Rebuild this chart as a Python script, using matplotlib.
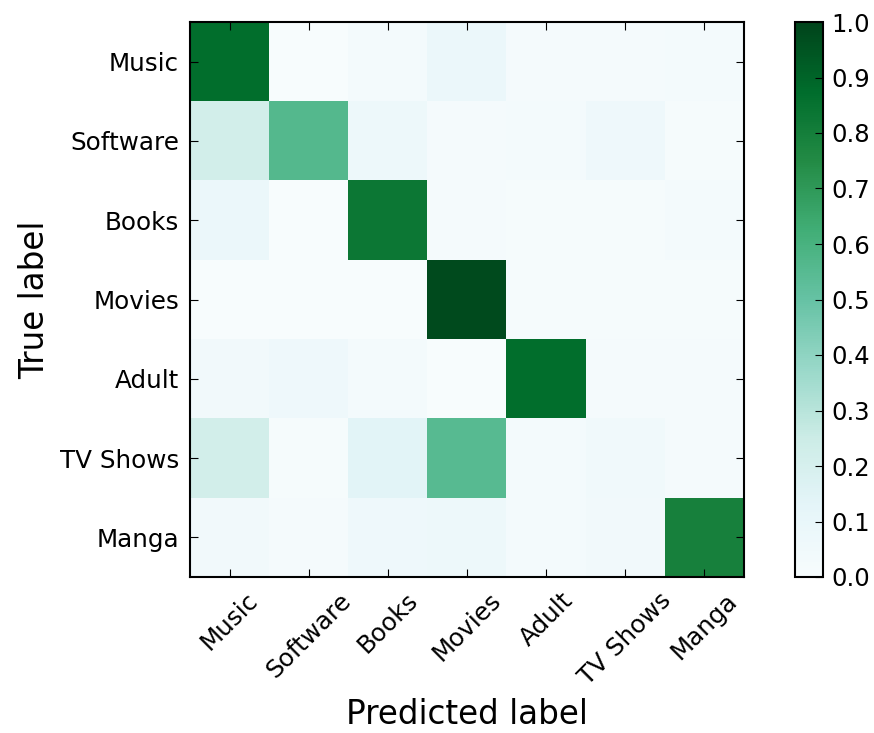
import numpy as np
import matplotlib
matplotlib.use('Agg')
import matplotlib.pyplot as plt

# class names, same order on both axes
classes = ['Music', 'Software', 'Books', 'Movies', 'Adult', 'TV Shows', 'Manga']

# normalized confusion matrix, rows = true label
row_music = [0.87, 0.00, 0.03, 0.08, 0.02, 0.02, 0.03]
row_software = [0.22, 0.56, 0.07, 0.02, 0.03, 0.06, 0.01]
row_books = [0.08, 0.00, 0.83, 0.02, 0.01, 0.01, 0.03]
row_movies = [0.00, 0.00, 0.00, 0.98, 0.01, 0.01, 0.01]
row_adult = [0.04, 0.06, 0.03, 0.00, 0.87, 0.02, 0.02]
row_tv = [0.22, 0.01, 0.14, 0.55, 0.03, 0.05, 0.02]
row_manga = [0.04, 0.02, 0.06, 0.07, 0.03, 0.04, 0.79]

cm = np.array([row_music, row_software, row_books, row_movies,
               row_adult, row_tv, row_manga])

plt.rcParams['font.family'] = 'DejaVu Sans'
plt.rcParams['xtick.direction'] = 'in'
plt.rcParams['ytick.direction'] = 'in'
plt.rcParams['xtick.major.size'] = 6
plt.rcParams['ytick.major.size'] = 6
plt.rcParams['axes.linewidth'] = 1.5

fig = plt.figure(figsize=(8.74, 7.33), dpi=100)
ax = fig.add_axes([190 / 874, 1 - 577 / 733, 554 / 874, 555 / 733])
cax = fig.add_axes([795 / 874, 1 - 577 / 733, 28 / 874, 555 / 733])

im = ax.imshow(cm, interpolation='nearest', cmap=plt.cm.BuGn, vmin=0, vmax=1, aspect='auto')
cb = fig.colorbar(im, cax=cax, ticks=np.arange(0, 1.01, 0.1))
cb.ax.tick_params(labelsize=17.5, direction='in', length=6, pad=6)
cb.outline.set_linewidth(1.5)

ticks = np.arange(len(classes))
ax.set_xticks(ticks)
ax.set_xticklabels(classes, rotation=45, fontsize=17.7)
ax.set_yticks(ticks)
ax.set_yticklabels(classes, fontsize=17.7)
ax.tick_params(top=True, right=True, pad=8)

ax.set_ylabel('True label', fontsize=23.5, labelpad=6)
ax.set_xlabel('Predicted label', fontsize=23.5, labelpad=6)

fig.savefig('out.png', dpi=100, facecolor='white')
